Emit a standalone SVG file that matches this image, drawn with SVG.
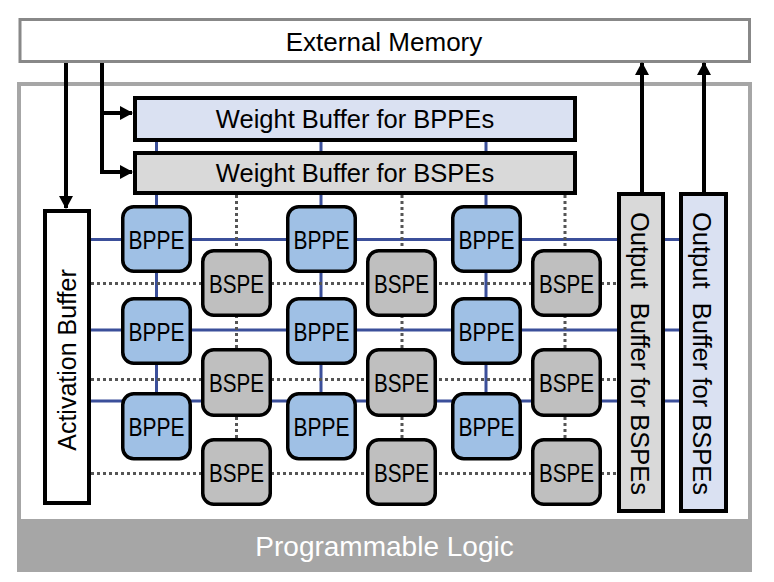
<svg xmlns="http://www.w3.org/2000/svg" width="774" height="582" viewBox="0 0 774 582">
  <style>
    text { font-family: "Liberation Sans", Arial, sans-serif; fill: #000; }
    .big { font-size: 26px; text-anchor: middle; }
    .wb { font-size: 25.5px; text-anchor: middle; }
    .pe { font-size: 26px; text-anchor: middle; }
    .buf { stroke: #000; stroke-width: 4; }
    .bppe { fill: #9fc0e5; stroke: #000; stroke-width: 3.5; }
    .bspe { fill: #bfbfbf; stroke: #000; stroke-width: 3.5; }
    .lav { fill: #dae1f2; }
    .gry { fill: #d9d9d9; }
    .blue { stroke: #3b4f9a; stroke-width: 3; fill: none; }
    .dot { stroke: #555; stroke-width: 3; stroke-dasharray: 3 3; fill: none; }
    .arrow { stroke: #000; stroke-width: 4; fill: none; }
  </style>
  <defs>
    <marker id="ah" markerUnits="userSpaceOnUse" markerWidth="13" markerHeight="14" refX="12" refY="7" orient="auto">
      <path d="M0,0 L13,7 L0,14 z" fill="#000"/>
    </marker>
  </defs>

  <rect width="774" height="582" fill="#fff"/>

  <g id="programmable-logic">
    <rect x="19" y="84" width="731" height="486" fill="#fff" stroke="#a6a6a6" stroke-width="4"/>
    <rect x="19" y="519" width="731" height="52" fill="#a6a6a6"/>
    <text x="384.5" y="556" style="font-size:28px;text-anchor:middle;fill:#fff">Programmable Logic</text>
  </g>

  <g id="external-memory">
    <rect x="20" y="19.5" width="729.5" height="42" fill="#fff" stroke="#888" stroke-width="3"/>
    <text class="big" x="384" y="50.5">External Memory</text>
  </g>

  <g id="connectors">
    <!-- blue solid BPPE links -->
    <path class="blue" d="M91,239.5 H679 M91,330 H679 M91,401 H679"/>
    <path class="blue" d="M156.5,142 V392 M321,142 V392 M486,142 V392"/>
    <!-- dotted BSPE links -->
    <path class="dot" d="M91,283.5 H617 M91,379.5 H617 M91,473.5 H617"/>
    <path class="dot" d="M236.5,195 V438 M402,195 V438 M565,195 V438"/>
    <!-- data arrows -->
    <path class="arrow" d="M66,63 V208" marker-end="url(#ah)"/>
    <path class="arrow" d="M102,63 V113 H132" marker-end="url(#ah)"/>
    <path class="arrow" d="M102,111 V172 H132" marker-end="url(#ah)"/>
    <path class="arrow" d="M642,192 V63" marker-end="url(#ah)"/>
    <path class="arrow" d="M704,192 V63" marker-end="url(#ah)"/>
  </g>

  <g id="weight-buffer-bppe">
    <rect class="buf lav" x="135" y="98" width="440" height="42"/>
    <text class="wb" x="355" y="128">Weight Buffer for BPPEs</text>
  </g>
  <g id="weight-buffer-bspe">
    <rect class="buf gry" x="135" y="153" width="440" height="40"/>
    <text class="wb" x="355" y="181.5">Weight Buffer for BSPEs</text>
  </g>

  <g id="activation-buffer">
    <rect class="buf" fill="#fff" x="45" y="211" width="44" height="292"/>
    <text transform="translate(76,360) rotate(-90)" style="font-size:25px;text-anchor:middle">Activation Buffer</text>
  </g>

  <g id="output-buffer-1">
    <rect class="buf gry" x="619" y="194" width="44" height="317"/>
    <text transform="translate(631,353.5) rotate(90)" style="font-size:25.5px;text-anchor:middle;white-space:pre">Output  Buffer for BSPEs</text>
  </g>
  <g id="output-buffer-2">
    <rect class="buf lav" x="681" y="194" width="45" height="317"/>
    <text transform="translate(693,353.5) rotate(90)" style="font-size:25.5px;text-anchor:middle;white-space:pre">Output  Buffer for BSPEs</text>
  </g>

  <g id="bppe-r1c1"><rect class="bppe" x="122.75" y="206.75" width="67.5" height="64.5" rx="11"/><text class="pe" x="156.5" y="248.5" textLength="56" lengthAdjust="spacingAndGlyphs">BPPE</text></g>
  <g id="bppe-r1c2"><rect class="bppe" x="287.75" y="206.75" width="67.5" height="64.5" rx="11"/><text class="pe" x="321.5" y="248.5" textLength="56" lengthAdjust="spacingAndGlyphs">BPPE</text></g>
  <g id="bppe-r1c3"><rect class="bppe" x="452.75" y="206.75" width="67.5" height="64.5" rx="11"/><text class="pe" x="486.5" y="248.5" textLength="56" lengthAdjust="spacingAndGlyphs">BPPE</text></g>
  <g id="bppe-r2c1"><rect class="bppe" x="122.75" y="298.75" width="67.5" height="64.5" rx="11"/><text class="pe" x="156.5" y="340.5" textLength="56" lengthAdjust="spacingAndGlyphs">BPPE</text></g>
  <g id="bppe-r2c2"><rect class="bppe" x="287.75" y="298.75" width="67.5" height="64.5" rx="11"/><text class="pe" x="321.5" y="340.5" textLength="56" lengthAdjust="spacingAndGlyphs">BPPE</text></g>
  <g id="bppe-r2c3"><rect class="bppe" x="452.75" y="298.75" width="67.5" height="64.5" rx="11"/><text class="pe" x="486.5" y="340.5" textLength="56" lengthAdjust="spacingAndGlyphs">BPPE</text></g>
  <g id="bppe-r3c1"><rect class="bppe" x="122.75" y="393.75" width="67.5" height="65" rx="11"/><text class="pe" x="156.5" y="435.5" textLength="56" lengthAdjust="spacingAndGlyphs">BPPE</text></g>
  <g id="bppe-r3c2"><rect class="bppe" x="287.75" y="393.75" width="67.5" height="65" rx="11"/><text class="pe" x="321.5" y="435.5" textLength="56" lengthAdjust="spacingAndGlyphs">BPPE</text></g>
  <g id="bppe-r3c3"><rect class="bppe" x="452.75" y="393.75" width="67.5" height="65" rx="11"/><text class="pe" x="486.5" y="435.5" textLength="56" lengthAdjust="spacingAndGlyphs">BPPE</text></g>

  <g id="bspe-r1c1"><rect class="bspe" x="202.75" y="250.75" width="67.5" height="64.5" rx="11"/><text class="pe" x="236.5" y="292.5" textLength="55" lengthAdjust="spacingAndGlyphs">BSPE</text></g>
  <g id="bspe-r1c2"><rect class="bspe" x="367.75" y="250.75" width="67.5" height="64.5" rx="11"/><text class="pe" x="401.5" y="292.5" textLength="55" lengthAdjust="spacingAndGlyphs">BSPE</text></g>
  <g id="bspe-r1c3"><rect class="bspe" x="532.75" y="250.75" width="67.5" height="64.5" rx="11"/><text class="pe" x="566.5" y="292.5" textLength="55" lengthAdjust="spacingAndGlyphs">BSPE</text></g>
  <g id="bspe-r2c1"><rect class="bspe" x="202.75" y="349.75" width="67.5" height="65.5" rx="11"/><text class="pe" x="236.5" y="392" textLength="55" lengthAdjust="spacingAndGlyphs">BSPE</text></g>
  <g id="bspe-r2c2"><rect class="bspe" x="367.75" y="349.75" width="67.5" height="65.5" rx="11"/><text class="pe" x="401.5" y="392" textLength="55" lengthAdjust="spacingAndGlyphs">BSPE</text></g>
  <g id="bspe-r2c3"><rect class="bspe" x="532.75" y="349.75" width="67.5" height="65.5" rx="11"/><text class="pe" x="566.5" y="392" textLength="55" lengthAdjust="spacingAndGlyphs">BSPE</text></g>
  <g id="bspe-r3c1"><rect class="bspe" x="202.75" y="439.75" width="67.5" height="64.5" rx="11"/><text class="pe" x="236.5" y="481.5" textLength="55" lengthAdjust="spacingAndGlyphs">BSPE</text></g>
  <g id="bspe-r3c2"><rect class="bspe" x="367.75" y="439.75" width="67.5" height="64.5" rx="11"/><text class="pe" x="401.5" y="481.5" textLength="55" lengthAdjust="spacingAndGlyphs">BSPE</text></g>
  <g id="bspe-r3c3"><rect class="bspe" x="532.75" y="439.75" width="67.5" height="64.5" rx="11"/><text class="pe" x="566.5" y="481.5" textLength="55" lengthAdjust="spacingAndGlyphs">BSPE</text></g>
</svg>
